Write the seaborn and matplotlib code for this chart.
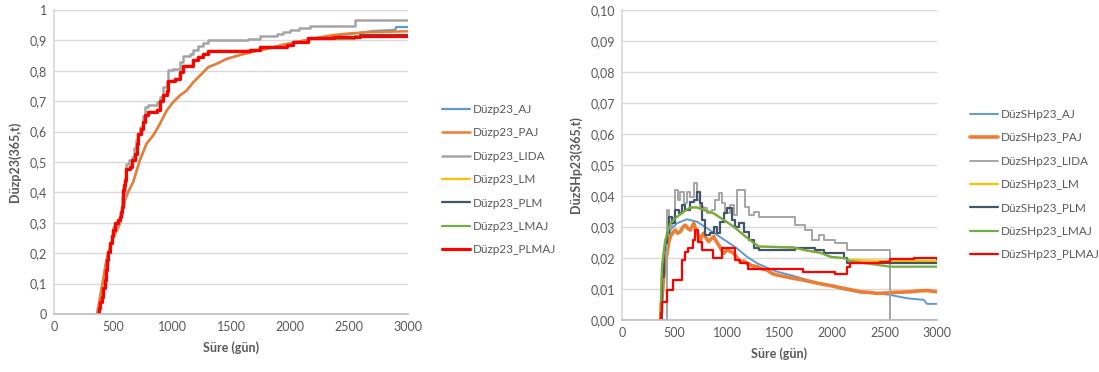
import matplotlib
matplotlib.use("Agg")
import matplotlib.pyplot as plt
import seaborn as sns
import pandas as pd
from matplotlib.ticker import FuncFormatter

# ---------------- data: left chart (Düzp23) ----------------
L_AJ_T = [365, 404, 444, 501, 558, 600, 628, 671, 727, 784, 840, 897, 954, 1010, 1067, 1124, 1180, 1237, 1307, 1378, 1463, 1576, 1690, 1803, 1944, 2086, 2227, 2369, 2510, 2600, 2700, 2890, 2900, 3000]
L_AJ_V = [0, 0.085, 0.176, 0.253, 0.297, 0.373, 0.401, 0.434, 0.505, 0.560, 0.587, 0.625, 0.669, 0.697, 0.719, 0.735, 0.762, 0.784, 0.812, 0.823, 0.839, 0.852, 0.863, 0.872, 0.886, 0.897, 0.908, 0.916, 0.921, 0.925, 0.931, 0.934, 0.944, 0.944]

L_PAJ_T = [365, 404, 444, 501, 530, 558, 600, 628, 671, 727, 784, 840, 897, 954, 1010, 1067, 1124, 1180, 1237, 1307, 1378, 1463, 1576, 1690, 1803, 1944, 2086, 2227, 2369, 2510, 2652, 3000]
L_PAJ_V = [0, 0.085, 0.176, 0.253, 0.272, 0.297, 0.373, 0.401, 0.434, 0.505, 0.560, 0.587, 0.625, 0.669, 0.697, 0.719, 0.735, 0.762, 0.784, 0.812, 0.823, 0.839, 0.852, 0.863, 0.872, 0.886, 0.897, 0.908, 0.918, 0.923, 0.927, 0.930]

L_LIDA_T = [365, 378, 390, 404, 418, 432, 440, 447, 460, 475, 490, 503, 530, 560, 580, 600, 614, 635, 657, 680, 699, 714, 727, 750, 770, 798, 869, 897, 925, 954, 968, 1010, 1067, 1095, 1152, 1180, 1223, 1265, 1307, 1647, 1746, 1888, 1944, 2000, 2080, 2170, 2553, 3000]
L_LIDA_V = [0, 0.020, 0.040, 0.057, 0.085, 0.112, 0.145, 0.178, 0.205, 0.233, 0.258, 0.285, 0.300, 0.330, 0.380, 0.434, 0.494, 0.505, 0.516, 0.545, 0.571, 0.595, 0.614, 0.650, 0.680, 0.688, 0.697, 0.713, 0.746, 0.768, 0.801, 0.806, 0.828, 0.850, 0.855, 0.869, 0.883, 0.890, 0.901, 0.905, 0.916, 0.921, 0.929, 0.934, 0.940, 0.949, 0.968, 0.968]

L_PLMAJ_T = [365, 378, 390, 404, 418, 432, 440, 447, 460, 475, 490, 503, 517, 540, 559, 566, 574, 581, 588, 595, 602, 614, 648, 662, 685, 700, 713, 741, 755, 770, 798, 869, 897, 925, 954, 968, 1024, 1067, 1095, 1152, 1180, 1223, 1265, 1307, 1661, 1746, 1972, 2029, 2156, 2369, 2595, 3000]
L_PLMAJ_V = [0, 0.020, 0.040, 0.057, 0.085, 0.112, 0.145, 0.178, 0.205, 0.233, 0.255, 0.276, 0.298, 0.310, 0.320, 0.337, 0.353, 0.380, 0.408, 0.425, 0.441, 0.478, 0.483, 0.505, 0.527, 0.560, 0.593, 0.609, 0.630, 0.653, 0.664, 0.671, 0.702, 0.719, 0.735, 0.768, 0.773, 0.795, 0.817, 0.817, 0.834, 0.847, 0.855, 0.866, 0.869, 0.877, 0.886, 0.894, 0.907, 0.910, 0.916, 0.916]

L_LM_T = L_PLMAJ_T
L_LM_V = [0, 0.020, 0.040, 0.057, 0.085, 0.112, 0.145, 0.178, 0.205, 0.233, 0.255, 0.276, 0.298, 0.310, 0.320, 0.337, 0.353, 0.380, 0.408, 0.425, 0.441, 0.478, 0.483, 0.505, 0.527, 0.560, 0.593, 0.609, 0.630, 0.653, 0.664, 0.671, 0.702, 0.719, 0.735, 0.768, 0.773, 0.795, 0.817, 0.817, 0.834, 0.847, 0.855, 0.866, 0.869, 0.877, 0.886, 0.894, 0.907, 0.910, 0.917, 0.917]
L_PLM_T = L_PLMAJ_T
L_PLM_V = L_LM_V
L_LMAJ_T = [365, 378, 390, 404, 418, 432, 440, 447, 460, 475, 490, 503, 517, 540, 559, 566, 574, 581, 588, 595, 602, 614, 648, 662, 685, 700, 713, 741, 755, 770, 798, 869, 897, 925, 954, 968, 1024, 1067, 1095, 1152, 1180, 1223, 1265, 1307, 1661, 1746, 1972, 2029, 2156, 2369, 2553, 3000]
L_LMAJ_V = [0, 0.020, 0.040, 0.057, 0.085, 0.112, 0.145, 0.178, 0.205, 0.233, 0.255, 0.276, 0.298, 0.310, 0.320, 0.337, 0.353, 0.380, 0.408, 0.425, 0.441, 0.478, 0.483, 0.505, 0.527, 0.560, 0.593, 0.609, 0.630, 0.653, 0.664, 0.671, 0.702, 0.719, 0.735, 0.768, 0.773, 0.795, 0.817, 0.817, 0.834, 0.847, 0.855, 0.866, 0.869, 0.877, 0.886, 0.894, 0.905, 0.905, 0.916, 0.916]

# ---------------- data: right chart (DüzSHp23) ----------------
R_AJ_T = [365, 381, 413, 460, 524, 619, 714, 810, 905, 1000, 1095, 1191, 1286, 1381, 1476, 1635, 1794, 1953, 2111, 2270, 2429, 2556, 2715, 2873, 2905, 3000]
R_AJ_V = [0, 0.0118, 0.0215, 0.0290, 0.0312, 0.0325, 0.0317, 0.0296, 0.0274, 0.0253, 0.0231, 0.0204, 0.0183, 0.0169, 0.0156, 0.0142, 0.0126, 0.0113, 0.0099, 0.0089, 0.0086, 0.0081, 0.0070, 0.0065, 0.0052, 0.0052]

R_PAJ_T = [365, 397, 413, 429, 445, 460, 485, 508, 530, 556, 580, 603, 625, 651, 683, 700, 714, 730, 746, 762, 778, 800, 826, 850, 873, 895, 921, 945, 968, 1000, 1030, 1064, 1095, 1127, 1160, 1191, 1240, 1286, 1330, 1381, 1430, 1476, 1550, 1635, 1710, 1794, 1870, 1953, 2030, 2111, 2190, 2270, 2350, 2429, 2510, 2588, 2670, 2746, 2830, 2905, 3000]
R_PAJ_V = [0, 0.0140, 0.0180, 0.0215, 0.0250, 0.0269, 0.0282, 0.0290, 0.0280, 0.0285, 0.0300, 0.0306, 0.0296, 0.0290, 0.0312, 0.0295, 0.0280, 0.0268, 0.0258, 0.0272, 0.0280, 0.0265, 0.0253, 0.0262, 0.0269, 0.0255, 0.0242, 0.0228, 0.0215, 0.0226, 0.0222, 0.0215, 0.0200, 0.0188, 0.0190, 0.0183, 0.0175, 0.0172, 0.0165, 0.0161, 0.0150, 0.0145, 0.0140, 0.0134, 0.0130, 0.0124, 0.0118, 0.0113, 0.0108, 0.0102, 0.0097, 0.0091, 0.0089, 0.0086, 0.0087, 0.0089, 0.0090, 0.0091, 0.0094, 0.0095, 0.0091]

R_LIDA_T = [365, 429, 444, 476, 508, 530, 556, 587, 619, 651, 683, 714, 746, 778, 810, 857, 889, 921, 952, 984, 1032, 1064, 1095, 1175, 1207, 1254, 1302, 1651, 1746, 1810, 1873, 1921, 2032, 2143, 2556, 3000]
R_LIDA_V = [0, 0.0355, 0.0300, 0.0330, 0.0420, 0.0387, 0.0414, 0.0376, 0.0414, 0.0398, 0.0441, 0.0387, 0.0366, 0.0360, 0.0344, 0.0355, 0.0387, 0.0409, 0.0376, 0.0344, 0.0371, 0.0339, 0.0419, 0.0366, 0.0339, 0.0350, 0.0333, 0.0306, 0.0290, 0.0258, 0.0274, 0.0258, 0.0247, 0.0226, 0.0, 0.0]

R_PLM_T = [365, 381, 397, 413, 429, 444, 476, 508, 540, 572, 603, 651, 683, 714, 746, 762, 794, 841, 873, 905, 937, 968, 1000, 1048, 1080, 1111, 1159, 1207, 1254, 1302, 1651, 1842, 1921, 2111, 2143, 3000]
R_PLM_V = [0, 0.0140, 0.0226, 0.0250, 0.0280, 0.0333, 0.0312, 0.0355, 0.0344, 0.0371, 0.0355, 0.0382, 0.0387, 0.0414, 0.0376, 0.0323, 0.0274, 0.0280, 0.0301, 0.0280, 0.0317, 0.0344, 0.0360, 0.0323, 0.0301, 0.0312, 0.0285, 0.0258, 0.0231, 0.0226, 0.0231, 0.0226, 0.0215, 0.0199, 0.0184, 0.0184]

R_LMAJ_T = [365, 381, 413, 460, 524, 587, 651, 714, 778, 873, 968, 1064, 1159, 1238, 1302, 1635, 1762, 1889, 1984, 2127, 2159, 2552, 3000]
R_LMAJ_V = [0, 0.0172, 0.0258, 0.0312, 0.0333, 0.0349, 0.0363, 0.0363, 0.0355, 0.0344, 0.0323, 0.0301, 0.0274, 0.0253, 0.0237, 0.0234, 0.0224, 0.0217, 0.0204, 0.0199, 0.0191, 0.0172, 0.0172]

R_LM_T = [365, 381, 413, 460, 524, 587, 651, 714, 778, 873, 968, 1064, 1159, 1238, 1302, 1635, 1762, 1889, 1984, 2127, 2159, 2552, 3000]
R_LM_V = [0, 0.0172, 0.0258, 0.0312, 0.0333, 0.0349, 0.0363, 0.0363, 0.0355, 0.0344, 0.0323, 0.0301, 0.0274, 0.0253, 0.0237, 0.0234, 0.0224, 0.0217, 0.0204, 0.0199, 0.0194, 0.0190, 0.0190]

R_PLMAJ_T = [365, 370, 378, 425, 489, 568, 600, 632, 679, 698, 723, 759, 869, 949, 1076, 1127, 1203, 1724, 2029, 2143, 2175, 2461, 2556, 2778, 3000]
R_PLMAJ_V = [0, 0.0022, 0.0059, 0.0097, 0.0129, 0.0194, 0.0220, 0.0231, 0.0258, 0.0290, 0.0253, 0.0226, 0.0199, 0.0231, 0.0194, 0.0183, 0.0163, 0.0156, 0.0150, 0.0172, 0.0183, 0.0188, 0.0196, 0.0199, 0.0196]

SUFFIXES = ["AJ", "PAJ", "LIDA", "LM", "PLM", "LMAJ", "PLMAJ"]
COLORS = ["#5B9BD5", "#ED7D31", "#A5A5A5", "#FFC000", "#44546A", "#70AD47", "#FF0000"]

LEFT = {
    "AJ": (L_AJ_T, L_AJ_V), "PAJ": (L_PAJ_T, L_PAJ_V), "LIDA": (L_LIDA_T, L_LIDA_V),
    "LM": (L_LM_T, L_LM_V), "PLM": (L_PLM_T, L_PLM_V), "LMAJ": (L_LMAJ_T, L_LMAJ_V),
    "PLMAJ": (L_PLMAJ_T, L_PLMAJ_V),
}
RIGHT = {
    "AJ": (R_AJ_T, R_AJ_V), "PAJ": (R_PAJ_T, R_PAJ_V), "LIDA": (R_LIDA_T, R_LIDA_V),
    "LM": (R_LM_T, R_LM_V), "PLM": (R_PLM_T, R_PLM_V), "LMAJ": (R_LMAJ_T, R_LMAJ_V),
    "PLMAJ": (R_PLMAJ_T, R_PLMAJ_V),
}
LEFT_STEP = {"AJ": False, "PAJ": False, "LIDA": True, "LM": True, "PLM": True, "LMAJ": True, "PLMAJ": True}
RIGHT_STEP = {"AJ": False, "PAJ": False, "LIDA": True, "LM": False, "PLM": True, "LMAJ": False, "PLMAJ": True}
LEFT_LW = {"AJ": 1.6, "PAJ": 1.8, "LIDA": 1.8, "LM": 1.6, "PLM": 1.6, "LMAJ": 1.6, "PLMAJ": 2.3}
RIGHT_LW = {"AJ": 1.4, "PAJ": 2.6, "LIDA": 1.4, "LM": 1.6, "PLM": 1.6, "LMAJ": 1.6, "PLMAJ": 1.6}

sns.set_theme(style="white")
plt.rcParams["font.family"] = ["Lato", "DejaVu Sans"]
TXT = "#595959"

fig = plt.figure(figsize=(10.99, 3.72), dpi=100)
axL = fig.add_axes([54 / 1099, 1 - 314 / 372, (408 - 54) / 1099, (314 - 10) / 372])
axR = fig.add_axes([622 / 1099, 1 - 320 / 372, (937 - 622) / 1099, (320 - 10) / 372])


def draw(ax, data, steps, lws, prefix):
    for suf, col in zip(SUFFIXES, COLORS):
        t, v = data[suf]
        df = pd.DataFrame({"t": t, "v": v})
        sns.lineplot(data=df, x="t", y="v", ax=ax, color=col, lw=lws[suf],
                     estimator=None, sort=False,
                     drawstyle="steps-post" if steps[suf] else "default",
                     label=f"{prefix}_{suf}")


draw(axL, LEFT, LEFT_STEP, LEFT_LW, "Düzp23")
draw(axR, RIGHT, RIGHT_STEP, RIGHT_LW, "DüzSHp23")

for ax, ymax, step, fmt, ylabel, leg_x, leg_y in [
    (axL, 1.0, 0.1, lambda y, p: ("%g" % round(y, 1)).replace(".", ","), "Düzp23(365,t)", 442 / 1099, 1 - 104 / 372),
    (axR, 0.10, 0.01, lambda y, p: ("%.2f" % y).replace(".", ","), "DüzSHp23(365,t)", 970 / 1099, 1 - 109 / 372),
]:
    ax.set_xlim(0, 3000)
    ax.set_ylim(0, ymax)
    ax.set_xticks(range(0, 3001, 500))
    ax.set_yticks([i * step for i in range(11)])
    ax.yaxis.set_major_formatter(FuncFormatter(fmt))
    ax.grid(axis="y", color="#D9D9D9", lw=1)
    ax.grid(axis="x", visible=False)
    for s in ["top", "right"]:
        ax.spines[s].set_visible(False)
    ax.spines["left"].set_color("#D9D9D9")
    ax.spines["bottom"].set_color("#BFBFBF")
    ax.tick_params(axis="both", colors=TXT, labelsize=9, length=0, pad=5)
    ax.set_xlabel("Süre (gün)", fontsize=9, fontweight="bold", color=TXT, labelpad=6)
    ax.set_ylabel(ylabel, fontsize=9, fontweight="bold", color=TXT, labelpad=6)
    ax.legend(loc="upper left", bbox_to_anchor=(leg_x, leg_y), bbox_transform=fig.transFigure,
              frameon=False, fontsize=8.5, handlelength=2.4, handletextpad=0.2,
              labelspacing=1.05, labelcolor=TXT, borderpad=0, borderaxespad=0)

fig.savefig("out.png", dpi=100, facecolor="white")
